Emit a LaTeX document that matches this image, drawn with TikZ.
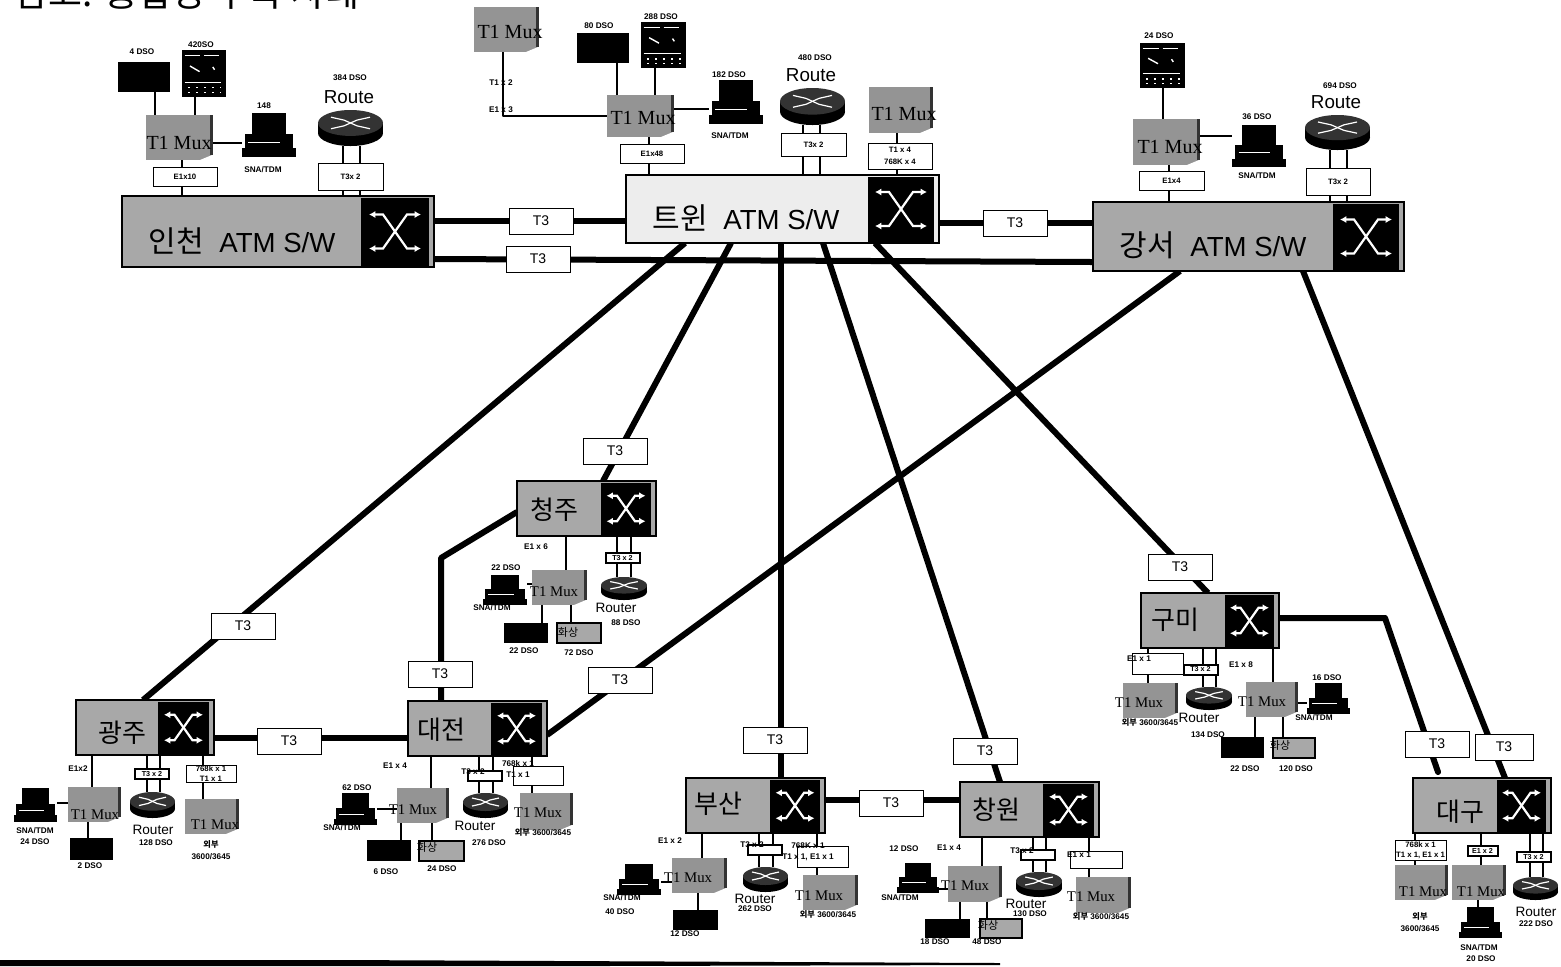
\documentclass[tikz,border=0pt]{standalone}
\usepackage{fontspec}
\setmainfont{Liberation Sans}
\newfontfamily\krfont{Noto Sans CJK KR}
\newfontfamily\muxfont{Liberation Serif}
\definecolor{swgray}{gray}{0.66}
\definecolor{twingray}{gray}{0.93}
\definecolor{muxgray}{gray}{0.58}
\usetikzlibrary{arrows.meta, backgrounds}
\tikzset{
  trunk/.style={line width=3pt},
  feed/.style={line width=1.3pt},
  ghost/.style={inner sep=0pt, outer sep=0pt, rectangle},
  t3box/.style={draw, fill=white, line width=0.5pt, inner sep=0pt, minimum width=32pt, minimum height=13pt, font=\fontsize{7}{8}\selectfont},
  tagbox/.style={draw, fill=white, line width=0.5pt, inner sep=0pt, align=center, font=\bfseries\fontsize{3.9}{5}\selectfont},
  tagthick/.style={draw, fill=white, line width=1pt, inner sep=0pt, minimum width=17pt, minimum height=5pt, font=\bfseries\fontsize{3.6}{4}\selectfont},
  dso/.style={inner sep=0pt, align=center, font=\bfseries\fontsize{4.1}{5.6}\selectfont},
  biglabel/.style={inner sep=0pt, font=\fontsize{13.8}{15}\selectfont},
  citylabel/.style={inner sep=0pt, font=\krfont\fontsize{13}{14}\selectfont},
  routelabel/.style={inner sep=0pt, font=\fontsize{9.4}{10}\selectfont},
  routersmall/.style={inner sep=0pt, font=\fontsize{6.8}{8}\selectfont},
  muxbig/.style={inner sep=0pt, font=\muxfont\fontsize{10}{11}\selectfont},
  muxsmall/.style={inner sep=0pt, font=\muxfont\fontsize{7.4}{8}\selectfont},
  videolabel/.style={inner sep=0pt, font=\krfont\fontsize{5.5}{6}\selectfont},
  xicon/.style={white, line width=1.1pt, {Latex[length=3.2pt,width=3.6pt]}-{Latex[length=3.2pt,width=3.6pt]}}
}
\newcommand{\kr}[1]{{\krfont\fontsize{15}{16}\selectfont #1}\hspace{4pt}}
% switch: name, x0, y0, x1, y1, left edge of the black block, fill, arrow size
\newcommand{\atmswitch}[8]{
  \node[draw, fill=#7, line width=1.4pt, ghost, minimum width={(#4-#2)*0.5pt}, minimum height={(#5-#3)*0.5pt}] (#1) at ({(#2+#4)/2},{(#3+#5)/2}) {};
  \node[fill=black, ghost, minimum width={(#4-#6-5)*0.5pt}, minimum height={(#5-#3-3)*0.5pt}] (#1sw) at ({(#6+#4-5)/2},{(#3+#5)/2}) {};
  \draw[xicon] ([shift={(-26*#8,-17*#8)}]#1sw.center) -- ([shift={(-12*#8,-17*#8)}]#1sw.center) -- ([shift={(12*#8,17*#8)}]#1sw.center) -- ([shift={(26*#8,17*#8)}]#1sw.center);
  \draw[xicon] ([shift={(-26*#8,17*#8)}]#1sw.center) -- ([shift={(-12*#8,17*#8)}]#1sw.center) -- ([shift={(12*#8,-17*#8)}]#1sw.center) -- ([shift={(26*#8,-17*#8)}]#1sw.center);
}
% mux block: name, x0, y0, x1, y1
\newcommand{\muxunit}[5]{
  \node[fill=muxgray, ghost, minimum width={(#4-#2)*0.5pt}, minimum height={(#5-#3)*0.5pt}] (#1) at ({(#2+#4)/2},{(#3+#5)/2}) {};
  \fill[white] (#4,#5) -- ({#4-12},#5) -- (#4,{#5-5}) -- cycle;
  \draw[line width=1.2pt, black!80] ({#4-0.5},#3) -- ({#4-0.5},{#5-5});
}
% router: name, x0, y0, x1, y1
\newcommand{\routerunit}[5]{
  \pgfmathsetmacro\ux{(#2+#4)/2}
  \pgfmathsetmacro\uw{(#4-#2)}
  \pgfmathsetmacro\uh{(#5-#3)}
  \node[ghost, minimum width={\uw*0.5pt}, minimum height={\uh*0.5pt}] (#1) at (\ux,{(#3+#5)/2}) {};
  \fill[black] (\ux,{#5-0.36*\uh}) ellipse [x radius=\uw/2, y radius=0.36*\uh];
  \fill[black] (#2,{#3+0.36*\uh}) rectangle (#4,{#5-0.36*\uh});
  \fill[black!80] (\ux,{#3+0.36*\uh}) ellipse [x radius=\uw/2, y radius=0.36*\uh];
  \draw[white, line width=0.6pt] ({\ux-0.3*\uw},{#3+0.2*\uh}) -- ({\ux-0.1*\uw},{#3+0.28*\uh}) -- ({\ux+0.1*\uw},{#3+0.44*\uh}) -- ({\ux+0.3*\uw},{#3+0.52*\uh});
  \draw[white, line width=0.6pt] ({\ux+0.3*\uw},{#3+0.2*\uh}) -- ({\ux+0.1*\uw},{#3+0.28*\uh}) -- ({\ux-0.1*\uw},{#3+0.44*\uh}) -- ({\ux-0.3*\uw},{#3+0.52*\uh});
}
% terminal: name, x0, y0, x1, y1
\newcommand{\termunit}[5]{
  \pgfmathsetmacro\ux{(#2+#4)/2}
  \pgfmathsetmacro\uw{(#4-#2)}
  \pgfmathsetmacro\uh{(#5-#3)}
  \node[ghost, minimum width={\uw*0.5pt}, minimum height={\uh*0.5pt}] (#1) at (\ux,{(#3+#5)/2}) {};
  \fill[black] ({#2+0.18*\uw},#3) rectangle ({#4-0.18*\uw},{#3+0.55*\uh});
  \fill[black] ({#2+0.05*\uw},{#3+0.48*\uh}) rectangle ({#4-0.05*\uw},{#5-0.1*\uh});
  \fill[black] (#2,{#5-0.2*\uh}) rectangle (#4,#5);
  \draw[white, line width=0.5pt] ({#2+0.12*\uw},{#3+0.66*\uh}) -- ({#4-0.3*\uw},{#3+0.66*\uh});
}
% shelf: name, x0, y0, x1, y1
\newcommand{\shelfunit}[5]{
  \pgfmathsetmacro\ux{(#2+#4)/2}
  \pgfmathsetmacro\uw{(#4-#2)}
  \pgfmathsetmacro\uh{(#5-#3)}
  \node[fill=black, ghost, minimum width={\uw*0.5pt}, minimum height={\uh*0.5pt}] (#1) at (\ux,{(#3+#5)/2}) {};
  \draw[white, line width=0.5pt] ({#2+0.06*\uw},{#3+0.12*\uh}) -- ({#2+0.42*\uw},{#3+0.12*\uh});
  \draw[white, line width=0.5pt] ({#2+0.5*\uw},{#3+0.12*\uh}) -- ({#2+0.85*\uw},{#3+0.12*\uh});
  \draw[white, line width=0.7pt] ({#2+0.18*\uw},{#3+0.34*\uh}) -- ({#2+0.4*\uw},{#3+0.46*\uh});
  \draw[white, line width=0.7pt] ({#2+0.7*\uw},{#3+0.36*\uh}) -- ({#2+0.74*\uw},{#3+0.42*\uh});
  \draw[white, line width=0.4pt] ({#2+0.06*\uw},{#3+0.68*\uh}) -- ({#2+0.88*\uw},{#3+0.68*\uh});
  \draw[white, line width=0.8pt, dash pattern=on 1pt off 3pt] ({#2+0.14*\uw},{#3+0.8*\uh}) -- ({#2+0.88*\uw},{#3+0.8*\uh});
  \draw[white, line width=0.8pt, dash pattern=on 1pt off 3pt] ({#2+0.14*\uw},{#3+0.9*\uh}) -- ({#2+0.88*\uw},{#3+0.9*\uh});
}
% black or video box: name, x0, y0, x1, y1
\newcommand{\pbxunit}[5]{
  \node[fill=black, ghost, minimum width={(#4-#2)*0.5pt}, minimum height={(#5-#3)*0.5pt}] (#1) at ({(#2+#4)/2},{(#3+#5)/2}) {};
}
\newcommand{\videounit}[5]{
  \node[draw, fill=swgray, line width=1.2pt, ghost, minimum width={(#4-#2)*0.5pt}, minimum height={(#5-#3)*0.5pt}] (#1) at ({(#2+#4)/2},{(#3+#5)/2}) {};
}

\begin{document}
\begin{tikzpicture}[x=0.5pt, y=-0.5pt]
  \useasboundingbox (0,0) rectangle (1561,966);
  \clip (0,0) rectangle (1561,966);

  % title, cut off by the page edge
  \node[inner sep=0pt, font=\krfont\fontsize{18.5}{20}\selectfont] (title) at (187,-7) {참고: 통합망 구축 사례};
  \fill[black] (0,960) -- (340,960) -- (1000,963) -- (1000,965) -- (600,966) -- (0,966) -- cycle;

  % backbone switches
  \atmswitch{incheon}{122}{196}{434}{267}{361}{swgray}{1}
  \atmswitch{twin}{626}{175}{939}{243}{868}{twingray}{1}
  \atmswitch{gangseo}{1093}{202}{1404}{271}{1333}{swgray}{1}
  \node[biglabel] (incheonlbl) at (242,241) {\kr{인천} ATM S/W};
  \node[biglabel] (twinlbl) at (746,218) {\kr{트윈} ATM S/W};
  \node[biglabel] (gangseolbl) at (1213,245) {\kr{강서} ATM S/W};

  % city switches
  \atmswitch{cheongju}{517}{481}{656}{536}{601}{swgray}{0.75}
  \atmswitch{gwangju}{76}{700}{214}{755}{158}{swgray}{0.75}
  \atmswitch{daejeon}{408}{701}{547}{756}{491}{swgray}{0.75}
  \atmswitch{busan}{686}{778}{825}{833}{770}{swgray}{0.75}
  \atmswitch{changwon}{960}{782}{1099}{837}{1043}{swgray}{0.75}
  \atmswitch{gumi}{1141}{593}{1279}{648}{1225}{swgray}{0.75}
  \atmswitch{daegu}{1413}{778}{1551}{833}{1497}{swgray}{0.75}
  \node[citylabel] (cheongjulbl) at (554,510) {청주};
  \node[citylabel] (gwangjulbl) at (122,733) {광주};
  \node[citylabel] (daejeonlbl) at (441,730) {대전};
  \node[citylabel] (busanlbl) at (718,804) {부산};
  \node[citylabel] (changwonlbl) at (996,810) {창원};
  \node[citylabel] (gumilbl) at (1175,620) {구미};
  \node[citylabel] (daegulbl) at (1460,812) {대구};

  % T3 tags on the trunks
  \node[t3box] (t3a) at (541,221) {T3};
  \node[t3box] (t3b) at (538,259) {T3};
  \node[t3box] (t3c) at (1015,223) {T3};
  \node[t3box] (t3d) at (615,451) {T3};
  \node[t3box] (t3e) at (243,626) {T3};
  \node[t3box] (t3f) at (440,674) {T3};
  \node[t3box] (t3g) at (620,680) {T3};
  \node[t3box] (t3h) at (775,740) {T3};
  \node[t3box] (t3i) at (985,751) {T3};
  \node[t3box] (t3j) at (1180,567) {T3};
  \node[t3box] (t3k) at (289,741) {T3};
  \node[t3box] (t3l) at (891,803) {T3};
  \node[t3box] (t3m) at (1437,744) {T3};
  \node[t3box, minimum width=29pt] (t3n) at (1504,747) {T3};

  % Incheon site
  \pbxunit{pbxin}{118}{62}{170}{92}
  \shelfunit{shelfin}{182}{50}{226}{97}
  \muxunit{muxin}{146}{115}{212}{160}
  \termunit{termin}{242}{113}{296}{157}
  \routerunit{rtin}{318}{110}{383}{146}
  \node[muxbig] (muxinlbl) at (179,143) {T1 Mux};
  \node[tagbox, minimum width=32pt, minimum height=9.5pt] (tagina) at (185,176.5) {\raisebox{-2.2pt}{E1x10}};
  \node[tagbox, minimum width=32.5pt, minimum height=13.5pt] (taginb) at (350.5,176.5) {T3x 2};
  \node[routelabel] (rtinlbl) at (349,97) {Route};
  \node[dso] (dsoina) at (142,52) {4 DSO};
  \node[dso] (dsoinb) at (201,45) {420SO};
  \node[dso] (dsoinc) at (264,106) {148};
  \node[dso] (dsoind) at (263,170) {SNA/TDM};
  \node[dso] (dsoine) at (350,78) {384 DSO};

  % Twin site
  \muxunit{muxfar}{474}{7}{538}{52}
  \pbxunit{pbxtw}{577}{33}{629}{63}
  \shelfunit{shelftw}{641}{22}{686}{68}
  \muxunit{muxtw}{607}{95}{673}{137}
  \termunit{termtw}{709}{80}{763}{124}
  \routerunit{rttw}{780}{88}{845}{125}
  \muxunit{muxtr}{869}{87}{932}{133}
  \node[muxbig] (muxfarlbl) at (510,32) {T1 Mux};
  \node[muxbig] (muxtwlbl) at (643,118) {T1 Mux};
  \node[muxbig] (muxtrlbl) at (904,114) {T1 Mux};
  \node[tagbox, minimum width=32pt, minimum height=9.5pt] (tagtwa) at (652,153.5) {\raisebox{-2.2pt}{E1x48}};
  \node[tagbox, minimum width=32.5pt, minimum height=11.5pt] (tagtwb) at (813.5,144.5) {T3x 2};
  \node[tagbox, minimum width=32pt, minimum height=13pt] (tagtwc) at (900,156) {T1 x 4\\[1pt]768K x 4};
  \node[routelabel] (rttwlbl) at (811,75) {Route};
  \node[dso] (dsotwa) at (501,83) {T1 x 2};
  \node[dso] (dsotwb) at (501,110) {E1 x 3};
  \node[dso] (dsotwc) at (599,26) {80 DSO};
  \node[dso] (dsotwd) at (661,17) {288 DSO};
  \node[dso] (dsotwe) at (729,75) {182 DSO};
  \node[dso] (dsotwf) at (730,136) {SNA/TDM};
  \node[dso] (dsotwg) at (815,58) {480 DSO};

  % Gangseo site
  \shelfunit{shelfgs}{1140}{43}{1185}{88}
  \muxunit{muxgs}{1133}{119}{1199}{165}
  \termunit{termgs}{1232}{125}{1286}{167}
  \routerunit{rtgs}{1305}{115}{1370}{150}
  \node[muxbig] (muxgslbl) at (1170,147) {T1 Mux};
  \node[tagbox, minimum width=32.5pt, minimum height=9.5pt] (taggsa) at (1171.5,180.5) {\raisebox{-2.2pt}{E1x4}};
  \node[tagbox, minimum width=32pt, minimum height=13.5pt] (taggsb) at (1338,181.5) {T3x 2};
  \node[routelabel] (rtgslbl) at (1336,102) {Route};
  \node[dso] (dsogsa) at (1159,36) {24 DSO};
  \node[dso] (dsogsb) at (1257,117) {36 DSO};
  \node[dso] (dsogsc) at (1257,176) {SNA/TDM};
  \node[dso] (dsogsd) at (1340,86) {694 DSO};

  % Cheongju site
  \termunit{termcj}{483}{575}{527}{605}
  \muxunit{muxcj}{532}{570}{586}{605}
  \routerunit{rtcj}{601}{577}{647}{600}
  \pbxunit{pbxcj}{504}{623}{548}{643}
  \videounit{vidcj}{557}{623}{601}{643}
  \node[muxsmall] (muxcjlbl) at (554,592) {T1 Mux};
  \node[videolabel] (vidcjlbl) at (568,632) {화상};
  \node[tagthick] (tagcj) at (622.5,558) {T3 x 2};
  \node[routersmall] (rtcjlbl) at (616,608) {Router};
  \node[dso] (dsocja) at (536,547) {E1 x 6};
  \node[dso] (dsocjb) at (506,568) {22 DSO};
  \node[dso] (dsocjc) at (492,608) {SNA/TDM};
  \node[dso] (dsocjd) at (626,623) {88 DSO};
  \node[dso] (dsocje) at (524,651) {22 DSO};
  \node[dso] (dsocjf) at (579,653) {72 DSO};

  % Gwangju site
  \termunit{termgj}{14}{788}{57}{822}
  \muxunit{muxgj}{68}{787}{120}{822}
  \pbxunit{pbxgj}{70}{838}{113}{860}
  \routerunit{rtgj}{130}{792}{175}{818}
  \muxunit{muxgk}{185}{799}{238}{834}
  \node[muxsmall] (muxgjlbl) at (95,815) {T1 Mux};
  \node[muxsmall] (muxgklbl) at (215,825) {T1 Mux};
  \node[tagthick] (taggja) at (152,774) {T3 x 2};
  \node[tagbox, minimum width=25pt, minimum height=8.5pt] (taggjb) at (211,773.5) {768k x 1\\T1 x 1};
  \node[routersmall] (rtgjlbl) at (153,830) {Router};
  \node[dso] (dsogja) at (78,769) {E1x2};
  \node[dso] (dsogjb) at (35,836) {SNA/TDM\\24 DSO};
  \node[dso] (dsogjc) at (90,866) {2 DSO};
  \node[dso] (dsogjd) at (156,843) {128 DSO};
  \node[dso] (dsogje) at (211,850) {{\krfont 외부}\\3600/3645};

  % Daejeon site
  \termunit{termdj}{334}{793}{377}{825}
  \muxunit{muxdj}{397}{788}{448}{823}
  \pbxunit{pbxdj}{367}{840}{411}{861}
  \videounit{viddj}{419}{841}{464}{861}
  \routerunit{rtdj}{463}{793}{508}{818}
  \muxunit{muxdk}{520}{793}{572}{830}
  \node[muxsmall] (muxdjlbl) at (413,810) {T1 Mux};
  \node[muxsmall] (muxdklbl) at (538,813) {T1 Mux};
  \node[videolabel] (viddjlbl) at (427,847) {화상};
  \node[tagthick] (tagdja) at (485,776) {};
  \node[tagbox, minimum width=25pt, minimum height=9.5pt] (tagdjb) at (538,775.5) {};
  \node[dso] (dsodja) at (473,772) {T3 x 2};
  \node[dso] (dsodjb) at (518,769) {768k x 1\\T1 x 1};
  \node[routersmall] (rtdjlbl) at (475,826) {Router};
  \node[dso] (dsodjc) at (395,766) {E1 x 4};
  \node[dso] (dsodjd) at (357,788) {62 DSO};
  \node[dso] (dsodje) at (342,828) {SNA/TDM};
  \node[dso] (dsodjf) at (386,872) {6 DSO};
  \node[dso] (dsodjg) at (442,869) {24 DSO};
  \node[dso] (dsodjh) at (489,843) {276 DSO};
  \node[dso] (dsodji) at (543,832) {{\krfont 외부} 3600/3645};

  % Busan site
  \termunit{termbs}{617}{864}{661}{895}
  \muxunit{muxbs}{672}{858}{726}{893}
  \pbxunit{pbxbs}{673}{910}{718}{930}
  \routerunit{rtbs}{743}{867}{788}{892}
  \muxunit{muxbt}{803}{875}{857}{910}
  \node[muxsmall] (muxbslbl) at (688,878) {T1 Mux};
  \node[muxsmall] (muxbtlbl) at (819,896) {T1 Mux};
  \node[tagthick] (tagbsa) at (765,849.5) {};
  \node[tagbox, minimum width=25.5pt, minimum height=10.5pt] (tagbsb) at (822.5,856.5) {};
  \node[dso] (dsobsa) at (752,845) {T3 x 2};
  \node[dso] (dsobsb) at (808,851.5) {768K x 1\\T1 x 1, E1 x 1};
  \node[routersmall] (rtbslbl) at (755,899) {Router};
  \node[dso] (dsobsc) at (670,841) {E1 x 2};
  \node[dso] (dsobsd) at (622,898) {SNA/TDM};
  \node[dso] (dsobse) at (620,912) {40 DSO};
  \node[dso] (dsobsf) at (685,934) {12 DSO};
  \node[dso] (dsobsg) at (755,909) {262 DSO};
  \node[dso] (dsobsh) at (828,914) {{\krfont 외부} 3600/3645};

  % Changwon site
  \termunit{termcw}{897}{863}{939}{893}
  \muxunit{muxcw}{948}{866}{1001}{902}
  \pbxunit{pbxcw}{925}{919}{970}{938}
  \videounit{vidcw}{980}{919}{1022}{938}
  \routerunit{rtcw}{1016}{872}{1062}{897}
  \muxunit{muxcx}{1076}{877}{1130}{913}
  \node[muxsmall] (muxcwlbl) at (965,886) {T1 Mux};
  \node[muxsmall] (muxcxlbl) at (1091,897) {T1 Mux};
  \node[videolabel] (vidcwlbl) at (988,925) {화상};
  \node[tagthick] (tagcwa) at (1037.5,855) {};
  \node[tagbox, minimum width=26pt, minimum height=8.5pt] (tagcwb) at (1096,859.5) {};
  \node[dso] (dsocwa) at (1022,851) {T3 x 2};
  \node[dso] (dsocwb) at (1079,855) {E1 x 1};
  \node[routersmall] (rtcwlbl) at (1026,904) {Router};
  \node[dso] (dsocwc) at (904,849) {12 DSO};
  \node[dso] (dsocwd) at (949,848) {E1 x 4};
  \node[dso] (dsocwe) at (900,898) {SNA/TDM};
  \node[dso] (dsocwf) at (935,942) {18 DSO};
  \node[dso] (dsocwg) at (987,942) {48 DSO};
  \node[dso] (dsocwh) at (1030,914) {130 DSO};
  \node[dso] (dsocwi) at (1101,916) {{\krfont 외부} 3600/3645};

  % Gumi site
  \muxunit{muxgm}{1123}{683}{1177}{718}
  \routerunit{rtgm}{1186}{687}{1232}{710}
  \muxunit{muxgn}{1246}{682}{1297}{717}
  \termunit{termgm}{1307}{683}{1350}{714}
  \pbxunit{pbxgm}{1221}{737}{1264}{758}
  \videounit{vidgm}{1273}{738}{1315}{758}
  \node[muxsmall] (muxgmlbl) at (1139,703) {T1 Mux};
  \node[muxsmall] (muxgnlbl) at (1262,702) {T1 Mux};
  \node[videolabel] (vidgmlbl) at (1280,745) {화상};
  \node[tagbox, minimum width=25.5pt, minimum height=10.5pt] (taggma) at (1157.5,663.5) {};
  \node[tagthick] (taggmb) at (1200.5,669.5) {T3 x 2};
  \node[dso] (dsogma) at (1139,659) {E1 x 1};
  \node[dso] (dsogmb) at (1241,665) {E1 x 8};
  \node[routersmall] (rtgmlbl) at (1199,718) {Router};
  \node[dso] (dsogmc) at (1327,678) {16 DSO};
  \node[dso] (dsogmd) at (1314,718) {SNA/TDM};
  \node[dso] (dsogme) at (1150,722) {{\krfont 외부} 3600/3645};
  \node[dso] (dsogmf) at (1208,735) {134 DSO};
  \node[dso] (dsogmg) at (1245,769) {22 DSO};
  \node[dso] (dsogmh) at (1296,769) {120 DSO};

  % Daegu site
  \muxunit{muxdg}{1395}{865}{1447}{900}
  \muxunit{muxdh}{1452}{865}{1505}{900}
  \routerunit{rtdg}{1513}{877}{1558}{900}
  \termunit{termdg}{1459}{907}{1502}{938}
  \node[muxsmall] (muxdglbl) at (1423,892) {T1 Mux};
  \node[muxsmall] (muxdhlbl) at (1481,892) {T1 Mux};
  \node[tagbox, minimum width=25.5pt, minimum height=10pt] (tagdga) at (1420.5,850) {768k x 1\\T1 x 1, E1 x 1};
  \node[tagthick, minimum width=15pt] (tagdgb) at (1482.5,851) {E1 x 2};
  \node[tagthick] (tagdgc) at (1533.5,857) {T3 x 2};
  \node[routersmall] (rtdglbl) at (1536,912) {Router};
  \node[dso] (dsodga) at (1536,924) {222 DSO};
  \node[dso] (dsodgb) at (1420,922) {{\krfont 외부}\\3600/3645};
  \node[dso] (dsodgc) at (1479,948) {SNA/TDM};
  \node[dso] (dsodgd) at (1481,959) {20 DSO};

  \begin{scope}[on background layer]
    % trunks between switches
    \draw[trunk] (incheon.east |- t3a) -- (twin.west |- t3a);
    \draw[trunk] (incheon.east |- t3b) -- (gangseo.west |- 0,262);
    \draw[trunk] (twin.east |- t3c) -- (gangseo.west |- t3c);
    \draw[trunk] (685,0 |- twin.south) -- (143,0 |- gwangju.north);
    \draw[trunk] (731,0 |- twin.south) -- (603,0 |- cheongju.north);
    \draw[trunk] (781,0 |- twin.south) -- (781,0 |- busan.north);
    \draw[trunk] (823,0 |- twin.south) -- (1000,0 |- changwon.north);
    \draw[trunk] (875,0 |- twin.south) -- (1208,0 |- gumi.north);
    \draw[trunk] (1180,0 |- gangseo.south) -- (daejeon.east |- 0,735);
    \draw[trunk] (1303,0 |- gangseo.south) -- (1505,0 |- daegu.north);
    \draw[trunk, line join=round] (cheongju.west |- 0,512) -- (441,558) -- (441,0 |- daejeon.north);
    \draw[trunk] (gwangju.east |- 0,738) -- (daejeon.west |- 0,738);
    \draw[trunk] (busan.east |- 0,800) -- (changwon.west |- 0,800);
    \draw[trunk, line join=round, line cap=round] (gumi.east |- 0,618) -- (1385,618) -- (1438,772);

    % Incheon feeds
    \draw[feed] (155,0 |- pbxin.south) -- (155,0 |- muxin.north);
    \draw[feed] (195,0 |- shelfin.south) -- (195,0 |- muxin.north);
    \draw[feed] (muxin.east |- 0,143) -- (termin.west |- 0,143);
    \draw[feed] (182,0 |- muxin.south) -- (182,0 |- incheon.north);
    \draw[feed] (343,0 |- rtin.south) -- (343,0 |- incheon.north);
    \draw[feed] (360,0 |- rtin.south) -- (360,0 |- incheon.north);

    % Twin feeds
    \draw[feed, line join=round] (503,0 |- muxfar.south) -- (503,116) -- (muxtw.west |- 0,116);
    \draw[feed] (617,0 |- pbxtw.south) -- (617,0 |- muxtw.north);
    \draw[feed] (655,0 |- shelftw.south) -- (655,0 |- muxtw.north);
    \draw[feed] (muxtw.east |- 0,109) -- (termtw.west |- 0,109);
    \draw[feed] (649,0 |- muxtw.south) -- (649,0 |- twin.north);
    \draw[feed] (803,0 |- rttw.south) -- (803,0 |- twin.north);
    \draw[feed] (820,0 |- rttw.south) -- (820,0 |- twin.north);
    \draw[feed] (897,0 |- muxtr.south) -- (897,0 |- twin.north);

    % Gangseo feeds
    \draw[feed] (1163,0 |- shelfgs.south) -- (1163,0 |- muxgs.north);
    \draw[feed] (muxgs.east |- 0,136) -- (termgs.west |- 0,136);
    \draw[feed] (1169,0 |- muxgs.south) -- (1169,0 |- gangseo.north);
    \draw[feed] (1330,0 |- rtgs.south) -- (1330,0 |- gangseo.north);
    \draw[feed] (1347,0 |- rtgs.south) -- (1347,0 |- gangseo.north);

    % Cheongju feeds
    \draw[feed] (566,0 |- cheongju.south) -- (566,0 |- muxcj.north);
    \draw[feed] (termcj.east |- 0,584) -- (muxcj.west |- 0,584);
    \draw[feed] (542,0 |- muxcj.south) -- (542,0 |- pbxcj.north);
    \draw[feed] (571,0 |- muxcj.south) -- (571,0 |- vidcj.north);
    \draw[feed] (617,0 |- cheongju.south) -- (617,0 |- rtcj.north);
    \draw[feed] (631,0 |- cheongju.south) -- (631,0 |- rtcj.north);

    % Gwangju feeds
    \draw[feed] (92,0 |- gwangju.south) -- (92,0 |- muxgj.north);
    \draw[feed] (termgj.east |- 0,803) -- (muxgj.west |- 0,803);
    \draw[feed] (88,0 |- muxgj.south) -- (88,0 |- pbxgj.north);
    \draw[feed] (147,0 |- gwangju.south) -- (147,0 |- rtgj.north);
    \draw[feed] (160,0 |- gwangju.south) -- (160,0 |- rtgj.north);
    \draw[feed] (203,0 |- gwangju.south) -- (203,0 |- muxgk.north);

    % Daejeon feeds
    \draw[feed] (431,0 |- daejeon.south) -- (431,0 |- muxdj.north);
    \draw[feed] (termdj.east |- 0,809) -- (muxdj.west |- 0,809);
    \draw[feed] (401,0 |- muxdj.south) -- (401,0 |- pbxdj.north);
    \draw[feed] (432,0 |- muxdj.south) -- (432,0 |- viddj.north);
    \draw[feed] (479,0 |- daejeon.south) -- (479,0 |- rtdj.north);
    \draw[feed] (493,0 |- daejeon.south) -- (493,0 |- rtdj.north);
    \draw[feed] (532,0 |- daejeon.south) -- (532,0 |- muxdk.north);

    % Busan feeds
    \draw[feed] (702,0 |- busan.south) -- (702,0 |- muxbs.north);
    \draw[feed] (termbs.east |- 0,882) -- (muxbs.west |- 0,882);
    \draw[feed] (698,0 |- muxbs.south) -- (698,0 |- pbxbs.north);
    \draw[feed] (759,0 |- busan.south) -- (759,0 |- rtbs.north);
    \draw[feed] (773,0 |- busan.south) -- (773,0 |- rtbs.north);
    \draw[feed] (817,0 |- busan.south) -- (817,0 |- muxbt.north);

    % Changwon feeds
    \draw[feed] (982,0 |- changwon.south) -- (982,0 |- muxcw.north);
    \draw[feed] (termcw.east |- 0,889) -- (muxcw.west |- 0,889);
    \draw[feed] (960,0 |- muxcw.south) -- (960,0 |- pbxcw.north);
    \draw[feed] (987,0 |- muxcw.south) -- (987,0 |- vidcw.north);
    \draw[feed] (1033,0 |- changwon.south) -- (1033,0 |- rtcw.north);
    \draw[feed] (1046,0 |- changwon.south) -- (1046,0 |- rtcw.north);
    \draw[feed] (1089,0 |- changwon.south) -- (1089,0 |- muxcx.north);

    % Gumi feeds
    \draw[feed] (1148,0 |- gumi.south) -- (1148,0 |- muxgm.north);
    \draw[feed] (1203,0 |- gumi.south) -- (1203,0 |- rtgm.north);
    \draw[feed] (1216,0 |- gumi.south) -- (1216,0 |- rtgm.north);
    \draw[feed] (1273,0 |- gumi.south) -- (1273,0 |- muxgn.north);
    \draw[feed] (muxgn.east |- 0,703) -- (termgm.west |- 0,703);
    \draw[feed] (1255,0 |- muxgn.south) -- (1255,0 |- pbxgm.north);
    \draw[feed] (1283,0 |- muxgn.south) -- (1283,0 |- vidgm.north);

    % Daegu feeds
    \draw[feed] (1415,0 |- daegu.south) -- (1415,0 |- muxdg.north);
    \draw[feed] (1481,0 |- daegu.south) -- (1481,0 |- muxdh.north);
    \draw[feed] (1530,0 |- daegu.south) -- (1530,0 |- rtdg.north);
    \draw[feed] (1543,0 |- daegu.south) -- (1543,0 |- rtdg.north);
    \draw[feed] (1478,0 |- muxdh.south) -- (1478,0 |- termdg.north);
  \end{scope}
\end{tikzpicture}
\end{document}
